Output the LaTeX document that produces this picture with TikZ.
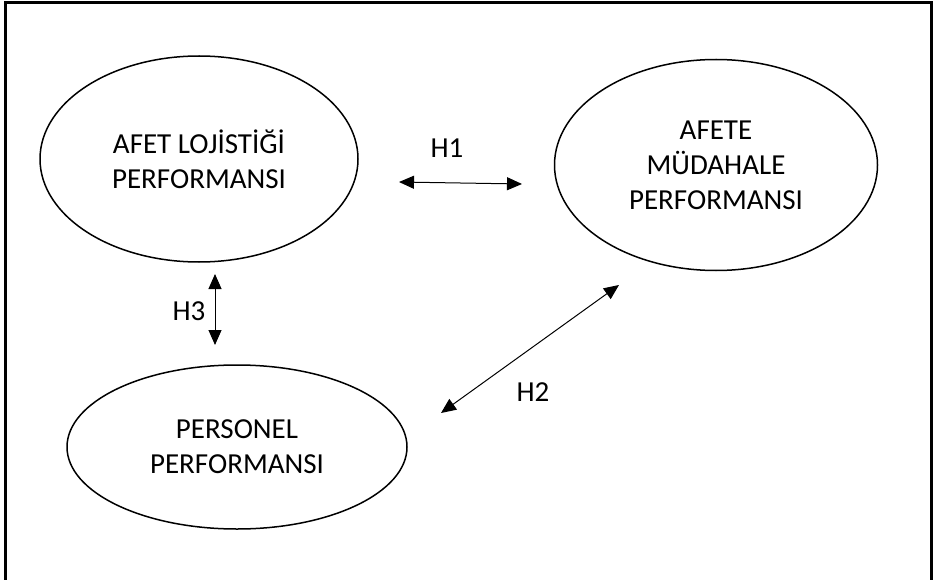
\documentclass[tikz,border=0pt]{standalone}
\usepackage{fontspec}
\setmainfont{Carlito}
\usepackage{tikz}
\usetikzlibrary{arrows.meta,shapes,positioning}
\usepackage{xcolor}
\definecolor{hpblack}{RGB}{0,0,0}
\tikzstyle{relation} = [line width=1pt,{Triangle[length=15pt,width=13pt]}-{Triangle[length=15pt,width=13pt]},color=hpblack]
\tikzstyle{construct} = [ellipse, inner sep=0pt, draw=hpblack, line width=1.5pt, align=center, font=\fontsize{29}{35}\selectfont]
\tikzstyle{hlabel} = [font=\fontsize{29}{35}\selectfont, inner sep=0pt]

\begin{document}
\begin{tikzpicture}[x=1pt, y=-1pt]
    \useasboundingbox (0,0) rectangle (933,580);
    % Frame
    \draw[line width=2.7pt] (5.5,585) |- (931.5,2.7) -- (931.5,585);

    % Constructs
    \node[construct, minimum width=318pt, minimum height=206pt] (logistics) at (199,159) {AFET LOJİSTİĞİ\\PERFORMANSI};
    \node[construct, minimum width=323pt, minimum height=211pt] (response) at (716,165) {AFETE\\MÜDAHALE\\PERFORMANSI};
    \node[construct, minimum width=340pt, minimum height=164pt] (staff) at (237,447) {PERSONEL\\PERFORMANSI};

    % Arrow ends
    \coordinate (h1a) at (399,182);
    \coordinate (h1b) at (522,184);
    \coordinate (h3a) at (215,274);
    \coordinate (h3b) at (215,345);
    \coordinate (h2a) at (441,413);
    \coordinate (h2b) at (619,285);

    % Hypotheses
    \draw[relation] (h1a) -- (h1b);
    \draw[relation] (h3a) -- (h3b);
    \draw[relation] (h2a) -- (h2b);
    \node[hlabel] (h1) at (447,148) {H1};
    \node[hlabel] (h3) at (189,311) {H3};
    \node[hlabel] (h2) at (533,392) {H2};
\end{tikzpicture}
\end{document}
